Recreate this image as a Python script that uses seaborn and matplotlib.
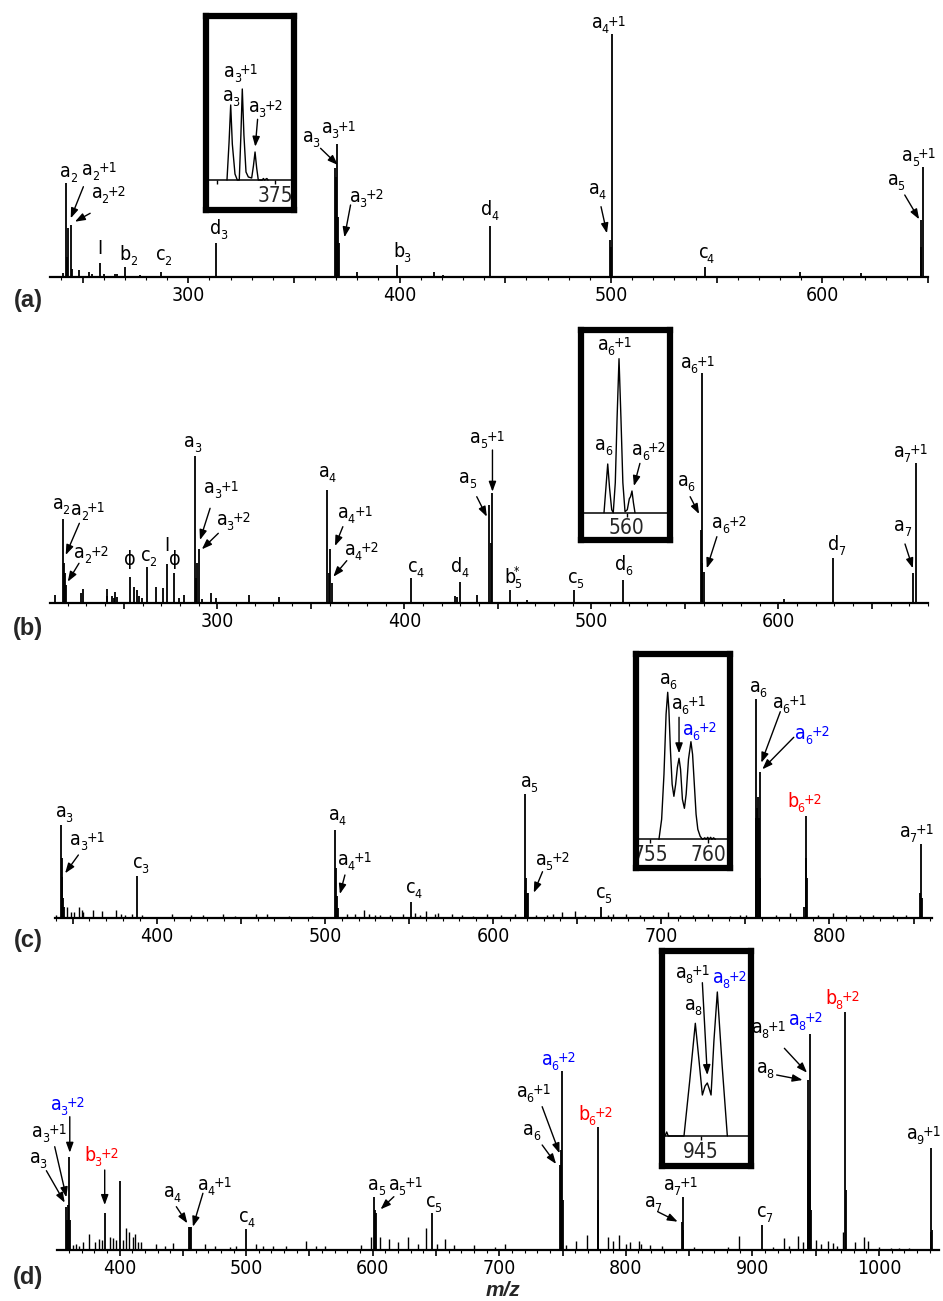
import matplotlib
matplotlib.use("Agg")
import matplotlib.pyplot as plt
import matplotlib.font_manager as fm
from matplotlib.ticker import MultipleLocator, FuncFormatter
from matplotlib.transforms import ScaledTranslation
import seaborn as sns

# ---------------- data (m/z, relative intensity) ----------------
# panel (a)
a_mz = [240.9, 242.0, 242.6, 243.2, 244.4, 244.9, 248.3, 253.2, 254.4, 258.3, 260.2, 265.4,
        266.2, 270.3, 277.3, 287.3, 313.1, 369.5, 369.9, 370.4, 370.9, 371.3, 380.0, 399.0,
        416.1, 420.4, 442.7, 499.5, 500.0, 500.5, 544.5, 589.6, 618.5, 646.5, 646.9, 647.8]
a_int = [4, 94, 20, 49, 52, 8, 7, 5, 3, 14, 3, 3, 3, 10, 2, 5, 34, 109, 100, 133, 60, 34, 5, 12,
         5, 2, 51, 37, 30, 243, 10, 5, 4, 30, 57, 110]
a_inset_mz = [370.86, 371.04, 371.18, 371.32, 371.55, 371.75, 371.92, 372.06, 372.18, 372.32,
              372.5, 372.7, 372.99, 373.14, 373.28, 373.42, 373.56, 373.9, 374.0, 374.1, 374.3, 374.4]
a_inset_int = [0, 38, 75, 36, 6, 0, 0, 45, 91, 45, 8, 3, 2, 14, 28, 12, 0, 0, 1.5, 0, 1.5, 0]

# panel (b)
b_mz = [213.2, 217.3, 218.0, 218.5, 219.1, 227.2, 228.0, 240.9, 241.2, 243.5, 244.8, 245.3,
        246.4, 253.2, 255.3, 256.9, 258.3, 259.6, 262.2, 267.2, 271.1, 272.9, 276.8, 279.5,
        282.2, 288.1, 288.8, 289.3, 290.2, 291.7, 296.6, 299.3, 316.8, 333.2, 358.8, 359.6,
        360.1, 361.2, 403.6, 427.1, 428.0, 429.8, 438.7, 445.5, 446.1, 446.7, 456.5, 465.4,
        490.8, 516.8, 558.5, 559.0, 559.4, 560.4, 603.2, 629.4, 672.2, 673.5]
b_int = [8, 84, 40, 30, 18, 10, 14, 7, 14, 7, 5, 11, 6, 26, 16, 13, 7, 5, 36, 16, 15, 39, 30, 5,
         8, 147, 25, 40, 54, 4, 10, 5, 8, 6, 113, 30, 54, 20, 25, 7, 6, 21, 8, 98, 60, 110, 13, 3,
         13, 23, 73, 40, 230, 31, 4, 45, 30, 140]
b_inset_mz = [558.11, 558.27, 558.42, 558.57, 558.75, 558.88, 559.05, 559.2, 559.36, 559.52,
              559.68, 559.86, 560.05, 560.22, 560.32, 560.44, 560.56, 560.69]
b_inset_int = [0, 25, 48.7, 25, 3, 0, 30, 95, 154, 95, 30, 1, 3, 14, 16, 21.7, 10, 0]

# panel (c)
c_mz = [343.1, 343.5, 343.9, 344.4, 344.9, 388.1, 506.1, 506.6, 507.1, 507.7, 551.1, 618.8,
        619.2, 619.7, 620.3, 621.0, 664.2, 756.2, 756.5, 757.0, 757.5, 758.0, 758.5, 759.0,
        784.6, 785.8, 786.3, 786.8, 854.0, 854.5, 855.0]
c_int = [93, 60, 41, 20, 11, 42, 88, 50, 22, 10, 16, 28, 124, 40, 25, 25, 11, 100, 218.7, 110,
         121, 100, 146, 40, 11, 60, 102, 40, 25, 74, 20]
c_minor_mz = [340.2, 346.5, 348.9, 350.9, 353.7, 355.4, 356.4, 362.0, 367.3, 375.8, 378.6, 381.2,
              385.1, 391.1, 408.9, 420.2, 427.7, 439.6, 446.5, 459.0, 465.4, 478.8, 492.1, 512.9,
              517.8, 523.2, 526.3, 529.7, 532.7, 538.6, 546.5, 553.5, 556.4, 560.4, 565.4, 567.3,
              575.3, 581.8, 588.1, 596.1, 605.0, 612.9, 625.8, 632.1, 635.7, 641.2, 648.5, 654.5,
              668.3, 671.3, 679.3, 687.2, 695.1, 704.0, 710.9, 718.8, 727.8, 740.6, 746.6, 750.6,
              768.4, 776.3, 793.1, 802.0, 810.0, 817.9, 825.8, 837.7, 845.6]
c_minor_int = [3, 11, 6, 6, 11, 8, 6, 8, 7, 8, 4, 3, 4, 3, 4, 3, 3, 4, 2, 4, 4, 2, 2, 4, 4, 8, 4, 3,
               3, 3, 4, 5, 3, 7, 4, 5, 4, 3, 2, 4, 3, 4, 3, 3, 4, 6, 7, 3, 3, 4, 4, 3, 3, 6, 3, 3,
               4, 2, 3, 3, 3, 5, 3, 5, 3, 3, 3, 3, 3]
c_inset_mz = [755.77, 756.0, 756.2, 756.38, 756.52, 756.62, 756.75, 756.9, 757.05, 757.2, 757.35,
              757.49, 757.62, 757.78, 757.95, 758.1, 758.3, 758.51, 758.65, 758.8, 758.95, 759.1,
              759.3, 759.5, 759.7, 759.8, 759.95, 760.05, 760.2, 760.3, 760.45, 760.6]
c_inset_int = [0, 20, 65, 125, 147, 130, 90, 55, 43, 55, 72, 81, 70, 40, 31, 45, 80, 97.6, 85, 55,
               25, 10, 3, 0, 1.5, 0, 2, 0, 2, 0, 1.5, 0]

# panel (d)
d_mz = [358.0, 358.4, 358.9, 360.3, 360.8, 388.2, 400.0, 454.7, 455.4, 456.1, 499.5, 601.4,
        602.1, 602.8, 646.7, 748.1, 748.6, 749.1, 749.9, 750.4, 777.8, 778.2, 844.2, 845.0,
        845.5, 907.6, 943.7, 944.2, 944.5, 945.3, 945.8, 946.3, 973.5, 974.0, 1040.8, 1041.2,
        1041.6]
d_int = [43, 30, 45, 93, 30, 37, 69, 23, 23, 23, 21, 53, 40, 37, 37, 85, 60, 100, 179, 50, 122.7,
         50, 28, 53, 20, 25, 170, 100, 120, 80, 216, 40, 237.7, 60, 18, 101.7, 20]
d_minor_mz = [363.5, 365.5, 367.9, 371.0, 375.8, 380.3, 383.7, 386.3, 392.1, 394.7, 397.4, 402.6,
              405.3, 407.3, 410.5, 411.8, 414.5, 417.1, 429.0, 435.5, 442.1, 467.1, 475.0, 486.9,
              492.2, 508.0, 513.2, 521.1, 531.7, 547.5, 555.4, 561.9, 590.4, 598.3, 605.4, 612.5,
              619.8, 627.7, 635.6, 642.2, 650.9, 657.5, 664.6, 680.4, 696.8, 704.9, 752.8, 760.7,
              769.1, 785.7, 790.2, 795.0, 800.2, 803.4, 810.2, 812.1, 819.2, 828.7, 854.2, 880.5,
              889.7, 916.0, 925.3, 928.7, 935.8, 939.7, 950.3, 954.3, 959.5, 963.4, 966.6, 971.9,
              981.4, 988.5, 991.1, 1000.3, 1009.6, 1016.1, 1024.0]
d_minor_int = [5, 6, 4, 8, 16, 8, 11, 10, 13, 12, 10, 10, 22, 18, 13, 16, 8, 8, 6, 4, 7, 6, 4, 3,
               4, 6, 4, 4, 4, 9, 4, 4, 5, 13, 13, 11, 8, 13, 6, 22, 6, 11, 5, 5, 3, 6, 5, 9, 15, 13,
               9, 15, 6, 8, 9, 6, 5, 4, 3, 3, 14, 3, 12, 4, 14, 8, 10, 6, 9, 7, 4, 18, 8, 13, 9, 3,
               2, 2, 2]
d_inset_mz = [941.75, 941.91, 942.05, 943.48, 944.0, 944.51, 944.85, 945.15, 945.4, 945.6,
              945.78, 945.94, 946.2, 946.51, 946.95, 947.42]
d_inset_int = [0, 4, 0, 0, 55, 112.7, 75, 41, 50, 53, 47, 41, 95, 144, 70, 0]

BLUE = "#0000ff"
RED = "#ff0000"

# ---------------- annotations: (label, m/z, intensity[, colour]) ----------------
a_labels = [("a|2", 243.4, 95.3), ("a|2|+1", 258.1, 97), ("a|2|+2", 262.5, 73.7),
            ("I", 258.3, 19), ("b|2", 271.7, 12), ("c|2", 288.2, 12), ("d|3", 314.5, 37.7),
            ("a|3", 358.2, 130.3), ("a|3|+1", 371.4, 138.7), ("a|3|+2", 384.7, 70.3),
            ("b|3", 400.9, 15.3), ("d|4", 442.7, 57), ("a|4", 493.5, 77.7),
            ("a|4|+1", 499.0, 243.7), ("c|4", 545.1, 13.7), ("a|5", 635.0, 87),
            ("a|5|+1", 645.9, 111.3)]
a_arrows = [(250.4, 90.3, 244.4, 58.7), (253.6, 63.7, 246.4, 55.3), (362.6, 128.7, 370.8, 112),
            (376.8, 72, 373.9, 39.7), (495.3, 70.3, 498.1, 43.7), (639, 82, 645.8, 57.7)]
a_inset_labels = [("a|3|+1", 372.1, 98.3), ("a|3", 371.2, 74), ("a|3|+2", 374.25, 62.7)]
a_inset_arrows = [(373.5, 60.7, 373.3, 33.3)]

b_labels = [("a|2", 216.3, 88.7), ("a|2|+1", 231, 83), ("a|2|+2", 232.8, 39.7),
            ("\u03d5", 253.3, 33.7), ("c|2", 263.4, 37), ("I", 272.9, 48), ("\u03d5", 277.4, 33.7),
            ("a|3", 286.7, 151.3), ("a|3|+1", 302.3, 104.7), ("a|3|+2", 308.8, 73),
            ("a|4", 358.9, 121.3), ("a|4|+1", 373.9, 79.7), ("a|4|+2", 377.5, 43),
            ("c|4", 406, 25.7), ("d|4", 429.7, 25.7), ("a|5", 433.8, 114.7),
            ("a|5|+1", 444.5, 154.7), ("b|5|*", 457.9, 14.7), ("c|5", 491.7, 14.7),
            ("d|6", 517.3, 28), ("a|6", 550.5, 112.3), ("a|6|+1", 557.2, 229.7),
            ("a|6|+2", 573.9, 69.7), ("d|7", 631, 48), ("a|7", 666.4, 67),
            ("a|7|+1", 670.9, 141.3)]
b_arrows = [(226.2, 79.7, 218.9, 48), (226, 39.7, 220, 21.3), (296.1, 94.7, 290.7, 63),
            (300.5, 69.7, 291.7, 53.7), (367.1, 76.3, 362.9, 57), (369.2, 42.3, 362, 26.3),
            (438.7, 106.3, 444.1, 86.3), (447.1, 153, 447.1, 111.3), (552.8, 106.3, 557.6, 89),
            (567.1, 66.3, 561.7, 34.7), (667.7, 59, 671.9, 34.7)]
b_inset_labels = [("a|6|+1", 559.04, 157.7), ("a|6", 558.07, 57.7), ("a|6|+2", 561.9, 52.7)]
b_inset_arrows = [(561.1, 49.3, 560.6, 26.7)]

c_labels = [("a|3", 345, 96.3), ("a|3|+1", 358.9, 68), ("c|3", 390.3, 44.7), ("a|4", 507.2, 93),
            ("a|4|+1", 517.9, 48), ("c|4", 552.9, 19.7), ("a|5", 621.3, 126.3),
            ("a|5|+2", 635.5, 48), ("c|5", 665.9, 14.7), ("a|6", 757.5, 220.7),
            ("a|6|+1", 776.4, 205.3), ("a|6|+2", 790, 174, BLUE), ("b|6|+2", 785.3, 106.3, RED),
            ("a|7|+1", 852.2, 76.3)]
c_arrows = [(353.4, 63, 345.5, 44.7), (511.9, 43, 508.9, 24), (629.4, 46.3, 624.2, 25.3),
            (770.8, 206.3, 759.5, 155.3), (778.8, 180.7, 760.1, 148.7)]
c_inset_labels = [("a|6", 756.54, 150), ("a|6|+1", 758.36, 125.3), ("a|6|+2", 759.28, 99.3, BLUE)]
c_inset_arrows = [(757.49, 122, 757.49, 86)]

d_labels = [("a|3|+2", 359.2, 135, BLUE), ("a|3|+1", 344.6, 108.3), ("a|3", 335.5, 81.7),
            ("b|3|+2", 386, 84, RED), ("a|4", 441.5, 48.3), ("a|4|+1", 475.2, 55),
            ("c|4", 500.3, 23.3), ("a|5", 603.2, 55), ("a|5|+1", 626.5, 55), ("c|5", 648.4, 38.3),
            ("a|6|+2", 747.3, 180, BLUE), ("a|6|+1", 727.5, 148.3), ("a|6", 725.6, 110),
            ("b|6|+2", 776.1, 125, RED), ("a|7", 821.4, 38.3), ("a|7|+1", 843.5, 55),
            ("c|7", 909.7, 28.3), ("a|8|+1", 913.0, 211.7), ("a|8", 909.9, 171.7),
            ("a|8|+2", 942.3, 220, BLUE), ("b|8|+2", 971.7, 241, RED), ("a|9|+1", 1038.1, 106)]
d_arrows = [(360.6, 133.3, 360.6, 97.3), (348.7, 103.3, 357.9, 52.7), (342.1, 79.3, 356.6, 47.3),
            (388.2, 80, 388.2, 45), (444.8, 43.3, 453.5, 26.7), (465.8, 56.7, 457.9, 23.3),
            (616.7, 53.3, 606.2, 40.7), (733.9, 143.3, 747.6, 96.7), (733.9, 105, 744.9, 86),
            (825.2, 38.3, 841, 28.3), (925.3, 201.7, 943.2, 177.3), (919.2, 175, 939.7, 170)]
d_inset_labels = [("a|8|+1", 944.3, 153.3), ("a|8|+2", 947.65, 147.7, BLUE), ("a|8", 944.33, 121)]
d_inset_arrows = [(945.15, 153.3, 945.6, 61)]

# ---------------- style ----------------
sns.set_theme(style="white")

_entries = fm.fontManager.ttflist


def _has(fam, st):
    return any(f.name == fam and str(f.stretch) == st and f.style == "normal"
               and f.weight in (400, "normal", "regular", "book") for f in _entries)


NARROW, STRETCH, FS = "Liberation Sans", "normal", 14
for fam, st, size in [("Liberation Sans Narrow", "normal", 16), ("Arial Narrow", "normal", 16),
                      ("Noto Sans", "condensed", 16), ("Noto Sans", "semi-condensed", 15),
                      ("Noto Sans", "extra-condensed", 17), ("DejaVu Sans", "condensed", 14),
                      ("DejaVu Sans", "semi-condensed", 14)]:
    if _has(fam, st):
        NARROW, STRETCH, FS = fam, st, size
        break

plt.rcParams["font.family"] = [NARROW, "DejaVu Sans"]
plt.rcParams["font.stretch"] = STRETCH
plt.rcParams["axes.unicode_minus"] = False

W, HF = 943, 1301
fig = plt.figure(figsize=(W / 100, HF / 100), dpi=100)
fig.patch.set_facecolor("white")
REND = fig.canvas.get_renderer()


def rect(x0, y0, x1, y1):
    return [x0 / W, 1 - y1 / HF, (x1 - x0) / W, (y1 - y0) / HF]


def shifted(ax, dx, dy):
    return ax.transData + ScaledTranslation(dx / 100, dy / 100, fig.dpi_scale_trans)


SUB_DROP = 0.36 * FS * 100 / 72 * 0.72   # baseline of main letter above subscript baseline (px)
SUP_RISE = 0.14 * FS * 100 / 72          # superscript baseline above main baseline (px)
KERN = 1.2                               # tighten letter / subscript gap (px)


def put_label(ax, spec, x, y, color):
    parts = spec.split("|")
    if len(parts) == 1:
        ax.text(x, y, spec, ha="center", va="bottom", fontsize=FS, color=color,
                clip_on=False, zorder=5)
        return
    base, sub = parts[0], parts[1]
    sup = parts[2] if len(parts) > 2 else None
    stacked = sup == "*"
    kw = dict(ha="left", va="baseline", color=color, clip_on=False, zorder=5)
    tb = ax.text(x, y, base, fontsize=FS, **kw)
    ts = ax.text(x, y, sub, fontsize=FS * 0.64, **kw)
    wb = tb.get_window_extent(REND).width - KERN
    ws = ts.get_window_extent(REND).width
    pieces = [(tb, 0.0, SUB_DROP), (ts, wb, 0.0)]
    total = wb + ws
    if sup is not None:
        tp = ax.text(x, y, sup, fontsize=FS * (0.62 if stacked else 0.72), **kw)
        wp = tp.get_window_extent(REND).width
        if stacked:
            pieces.append((tp, wb, SUB_DROP + 0.42 * FS * 100 / 72))
            total = wb + max(ws, wp)
        else:
            pieces.append((tp, wb + ws - 0.8, SUB_DROP + SUP_RISE))
            total = wb + ws + wp - 0.8
    xpix = ax.transData.transform((x, y))[0]
    left = -total / 2
    if xpix + left + total > W - 2:
        left = W - 2 - xpix - total
    for t, dx, dy in pieces:
        t.set_transform(shifted(ax, left + dx, dy))


def annotate(ax, labels, arrows):
    for item in labels:
        txt, x, y = item[:3]
        col = item[3] if len(item) > 3 else "black"
        put_label(ax, txt, x, y, col)
    for x0, y0, x1, y1 in arrows:
        ax.annotate("", xy=(x1, y1), xytext=(x0, y0), annotation_clip=False,
                    arrowprops=dict(arrowstyle="-|>,head_length=0.6,head_width=0.22",
                                    color="black", lw=1.0, shrinkA=0, shrinkB=0,
                                    mutation_scale=10), zorder=5)


def main_panel(box, xlim, mz, inten, minor_mz=None, minor_int=None):
    ax = fig.add_axes(rect(*box))
    ax.set_facecolor("none")
    if minor_mz is not None:
        ax.vlines(minor_mz, 0, minor_int, color="black", lw=1.0)
    ax.vlines(mz, 0, inten, color="black", lw=1.3)
    ax.set_xlim(*xlim)
    ax.set_ylim(0, box[3] - box[1])
    sns.despine(ax=ax, left=True)
    ax.set_yticks([])
    ax.xaxis.set_major_locator(MultipleLocator(50))
    ax.xaxis.set_major_formatter(FuncFormatter(lambda v, p: f"{v:.0f}" if round(v) % 100 == 0 else ""))
    ax.xaxis.set_minor_locator(MultipleLocator(10))
    ax.tick_params(axis="x", which="major", direction="out", length=4, width=1.2, pad=2.5,
                   labelsize=FS, bottom=True, color="black", labelcolor="black")
    ax.tick_params(axis="x", which="minor", direction="out", length=1.8, width=0.8, bottom=True,
                   color="black")
    ax.spines["bottom"].set_linewidth(1.6)
    ax.spines["bottom"].set_color("black")
    return ax


def inset(box, baseline, xlim, mz, inten, ticks, ticklabels):
    ax = fig.add_axes(rect(*box))
    ax.set_facecolor("white")
    ax.set_zorder(10)
    H = box[3] - box[1]
    bottom = -(box[3] - baseline)
    ax.set_ylim(bottom, bottom + H)
    ax.set_xlim(*xlim)
    sns.lineplot(x=mz, y=inten, ax=ax, color="black", lw=1.0, estimator=None)
    ax.set_xticks([])
    ax.set_yticks([])
    ax.set_xlabel("")
    ax.set_ylabel("")
    for sp in ax.spines.values():
        sp.set_linewidth(4.5)
        sp.set_color("black")
    sec = ax.secondary_xaxis(-bottom / H)
    sec.set_xticks(ticks, ticklabels)
    sec.spines["bottom"].set_linewidth(1.1)
    sec.spines["bottom"].set_color("black")
    sec.tick_params(direction="out", length=3, width=1.0, pad=1, labelsize=FS + 1, color="black")
    return ax


# panel (a)
ax = main_panel((50, 10, 928, 277), (234.6, 650), a_mz, a_int)
annotate(ax, a_labels, a_arrows)
ia = inset((206, 16, 294, 210), 180, (369.05, 376.64), a_inset_mz, a_inset_int, [370, 375], ["", "375"])
annotate(ia, a_inset_labels, a_inset_arrows)

# panel (b)
ax = main_panel((50, 330, 928, 603), (210.5, 680), b_mz, b_int)
annotate(ax, b_labels, b_arrows)
ib = inset((581.3, 329.7, 670.3, 539.7), 512.7, (556.22, 563.63), b_inset_mz, b_inset_int, [560], ["560"])
annotate(ib, b_inset_labels, b_inset_arrows)

# panel (c)
ax = main_panel((55, 650, 932, 918), (339.5, 861), c_mz, c_int, c_minor_mz, c_minor_int)
annotate(ax, c_labels, c_arrows)
ic = inset((636.3, 653.7, 729.7, 867.7), 839.3, (753.83, 761.83), c_inset_mz, c_inset_int, [755, 760], ["755", "760"])
annotate(ic, c_inset_labels, c_inset_arrows)

# panel (d)
ax = main_panel((57, 990, 939, 1250), (350.5, 1047.5), d_mz, d_int, d_minor_mz, d_minor_int)
annotate(ax, d_labels, d_arrows)
idd = inset((662.3, 951, 751, 1166), 1136, (941.51, 949.57), d_inset_mz, d_inset_int, [945], ["945"])
annotate(idd, d_inset_labels, d_inset_arrows)

# panel letters and axis title
for lab, yc in [("(a)", 301), ("(b)", 628), ("(c)", 941), ("(d)", 1277.5)]:
    fig.text(28 / W, 1 - yc / HF, lab, fontsize=17, fontweight="bold", ha="center", va="center",
             family=["Liberation Sans", "DejaVu Sans"], stretch="normal")
fig.text(503 / W, 1 - 1290 / HF, "m/z", fontsize=15, fontweight="bold", style="italic",
         ha="center", va="center", family=["Liberation Sans", "DejaVu Sans"], stretch="normal")

fig.savefig("out.png", dpi=100, facecolor="white")
